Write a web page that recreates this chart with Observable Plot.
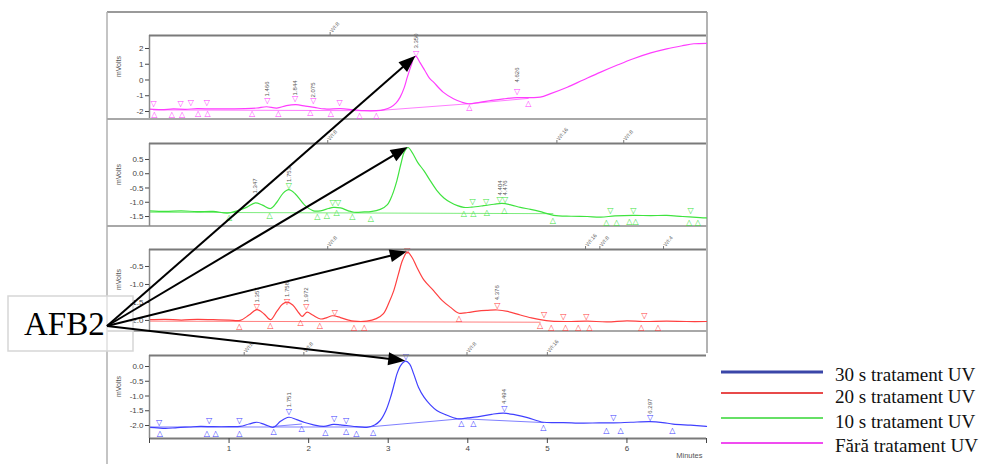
<!DOCTYPE html>
<html><head><meta charset="utf-8">
<script src="https://cdn.jsdelivr.net/npm/d3@7"></script>
<script src="https://cdn.jsdelivr.net/npm/@observablehq/plot@0.6"></script>
<style>
html,body{margin:0;padding:0;background:#fff;}
#wrap{position:relative;width:985px;height:464px;overflow:hidden;}
#wrap svg{position:absolute;left:0;}
</style></head><body><div id="wrap"></div>
<script>
// ---------- data ----------
const xTicks = [0,1,2,3,4,5,6,7];
const seriesNames = ["Fără tratament UV","10 s tratament UV","20 s tratament UV","30 s tratament UV"];
const afb2Label = "AFB2";
const afb2Times = [3.35, 3.25, 3.24, 3.22];   // retention time of AFB2 per panel (top to bottom)

const magentaTrace = [[0,-1.85],[0.15,-1.88],[0.3,-1.84],[0.45,-1.86],[0.6,-1.82],[0.8,-1.84],[1.0,-1.83],[1.2,-1.82],[1.35,-1.78],[1.47,-1.7],[1.6,-1.78],[1.72,-1.63],[1.84,-1.57],[1.96,-1.66],[2.07,-1.74],[2.2,-1.84],[2.4,-1.82],[2.55,-1.88],[2.7,-1.95],[2.85,-1.95],[2.95,-1.88],[3.03,-1.73],[3.1,-1.45],[3.15,-1.09],[3.2,-0.5],[3.24,0.18],[3.29,0.95],[3.32,1.4],[3.35,1.5],[3.4,1.1],[3.46,0.6],[3.52,0.1],[3.57,-0.14],[3.69,-0.77],[3.82,-1.19],[3.92,-1.4],[4.01,-1.51],[4.15,-1.42],[4.3,-1.3],[4.45,-1.2],[4.62,-1.12],[4.8,-1.12],[4.91,-1.09],[5.05,-0.85],[5.25,-0.46],[5.45,0.0],[5.67,0.5],[5.88,0.95],[6.08,1.35],[6.3,1.72],[6.5,1.98],[6.7,2.18],[6.84,2.3],[7.0,2.33]];
const greenTrace = [[0,-1.3],[0.2,-1.32],[0.4,-1.3],[0.6,-1.33],[0.8,-1.32],[0.98,-1.38],[1.1,-1.3],[1.22,-1.18],[1.33,-1.02],[1.42,-1.1],[1.52,-1.22],[1.6,-1.0],[1.68,-0.68],[1.75,-0.56],[1.83,-0.7],[1.95,-1.1],[2.06,-1.3],[2.15,-1.3],[2.25,-1.22],[2.31,-1.18],[2.4,-1.2],[2.5,-1.3],[2.57,-1.35],[2.7,-1.34],[2.78,-1.33],[2.9,-1.25],[2.99,-1.08],[3.05,-0.75],[3.11,-0.23],[3.16,0.35],[3.2,0.75],[3.25,0.92],[3.3,0.75],[3.37,0.4],[3.45,0.1],[3.53,-0.25],[3.61,-0.58],[3.7,-0.85],[3.78,-1.0],[3.87,-1.12],[3.95,-1.18],[4.05,-1.17],[4.2,-1.12],[4.33,-1.07],[4.43,-1.04],[4.55,-1.1],[4.66,-1.18],[4.79,-1.25],[4.9,-1.32],[5.08,-1.46],[5.3,-1.49],[5.5,-1.5],[5.67,-1.52],[5.85,-1.48],[6.08,-1.46],[6.3,-1.47],[6.5,-1.46],[6.7,-1.5],[6.92,-1.54],[7.0,-1.55]];
const redTrace = [[0,-1.98],[0.2,-1.97],[0.4,-1.99],[0.6,-1.97],[0.8,-1.98],[1.0,-1.99],[1.14,-2.0],[1.25,-1.85],[1.35,-1.7],[1.44,-1.82],[1.52,-1.98],[1.6,-1.75],[1.67,-1.55],[1.73,-1.49],[1.8,-1.57],[1.88,-1.8],[1.92,-1.89],[1.98,-1.77],[2.05,-1.85],[2.15,-1.96],[2.23,-1.92],[2.3,-1.87],[2.4,-1.92],[2.5,-1.99],[2.57,-2.02],[2.73,-2.02],[2.85,-1.95],[2.94,-1.81],[3.01,-1.5],[3.07,-1.17],[3.13,-0.7],[3.18,-0.33],[3.24,-0.1],[3.3,-0.25],[3.36,-0.52],[3.45,-0.88],[3.57,-1.17],[3.68,-1.45],[3.78,-1.63],[3.89,-1.8],[4.0,-1.78],[4.12,-1.74],[4.25,-1.72],[4.37,-1.71],[4.5,-1.75],[4.66,-1.85],[4.8,-1.93],[4.91,-1.98],[5.05,-2.02],[5.25,-2.03],[5.5,-2.02],[5.75,-2.04],[6.0,-2.01],[6.2,-2.03],[6.5,-2.02],[6.75,-2.03],[7.0,-2.03]];
const blueTrace = [[0,-2.06],[0.1,-2.08],[0.2,-2.1],[0.35,-2.07],[0.5,-2.05],[0.64,-2.03],[0.8,-2.04],[1.0,-2.04],[1.14,-2.03],[1.25,-1.95],[1.35,-1.89],[1.45,-1.97],[1.56,-2.06],[1.65,-1.85],[1.75,-1.72],[1.85,-1.8],[1.94,-1.89],[2.05,-1.97],[2.19,-2.03],[2.31,-1.96],[2.4,-1.98],[2.48,-2.0],[2.6,-2.04],[2.73,-2.06],[2.83,-1.98],[2.9,-1.83],[2.97,-1.5],[3.03,-1.04],[3.08,-0.55],[3.11,-0.25],[3.16,0.05],[3.22,0.18],[3.27,0.08],[3.32,-0.25],[3.38,-0.7],[3.45,-1.04],[3.53,-1.3],[3.61,-1.49],[3.72,-1.63],[3.87,-1.77],[4.0,-1.74],[4.12,-1.71],[4.3,-1.62],[4.45,-1.58],[4.6,-1.64],[4.75,-1.73],[4.95,-1.89],[5.2,-1.9],[5.45,-1.92],[5.65,-1.91],[5.83,-1.91],[6.05,-1.89],[6.29,-1.87],[6.45,-1.9],[6.58,-1.95],[6.8,-1.99],[7.0,-2.03]];

const magentaBase = [[[0.05,-1.9],[2.85,-1.95],[4.01,-1.51],[4.76,-1.17]]];
const greenBase = [[[0,-1.35],[5.07,-1.4]]];
const redBase = [[[0,-2.02],[4.91,-2.05]]];
const blueBase = [[[0,-2.05],[2.75,-2.05],[3.92,-1.77],[4.95,-1.9]],[[1.56,-2.03],[1.91,-1.95]]];

const magentaDown = [[0.05,-1.51],[0.39,-1.51],[0.52,-1.41],[0.72,-1.41],[1.48,-1.30],[1.83,-1.16],[2.06,-1.30],[2.39,-1.41],[3.35,1.68],[4.62,-0.71]];
const magentaUp = [[0.06,-2.21],[0.28,-2.21],[0.41,-2.21],[0.61,-2.15],[0.73,-2.15],[1.29,-2.15],[1.62,-2.15],[2.02,-2.04],[2.28,-2.15],[2.64,-2.25],[2.85,-2.25],[4.02,-1.77],[4.76,-1.47]];
const greenDown = [[1.75,-0.41],[2.30,-1.0],[2.37,-1.0],[4.06,-0.97],[4.23,-0.96],[4.40,-0.90],[4.47,-0.90],[5.79,-1.29],[6.08,-1.27],[6.80,-1.29]];
const greenUp = [[1.0,-1.52],[1.51,-1.46],[2.11,-1.49],[2.23,-1.46],[2.35,-1.35],[2.55,-1.51],[2.78,-1.55],[3.95,-1.38],[4.07,-1.38],[4.24,-1.37],[4.46,-1.29],[5.07,-1.64],[5.74,-1.70],[5.87,-1.70],[6.03,-1.66],[6.11,-1.66],[6.78,-1.70],[6.89,-1.70]];
const redDown = [[1.35,-1.61],[1.73,-1.46],[1.97,-1.61],[2.33,-1.77],[3.24,-0.06],[4.37,-1.58],[4.96,-1.83],[5.2,-1.89],[5.49,-1.89],[6.22,-1.86]];
const redUp = [[1.13,-2.17],[1.52,-2.14],[1.90,-2.05],[2.14,-2.14],[2.57,-2.2],[2.70,-2.2],[3.89,-1.95],[4.91,-2.14],[5.05,-2.19],[5.23,-2.2],[5.39,-2.2],[5.53,-2.2],[6.18,-2.2],[6.39,-2.2]];
const blueDown = [[0.12,-1.89],[0.75,-1.83],[1.13,-1.83],[1.75,-1.51],[2.32,-1.77],[2.47,-1.83],[3.22,0.34],[4.46,-1.43],[5.83,-1.72],[6.29,-1.74]];
const blueUp = [[0.13,-2.26],[0.72,-2.26],[0.83,-2.26],[1.13,-2.26],[1.56,-2.19],[1.91,-2.11],[2.21,-2.23],[2.47,-2.21],[2.60,-2.26],[2.81,-2.23],[3.92,-1.94],[4.07,-1.94],[4.95,-2.08],[5.74,-2.15],[5.92,-2.15],[6.57,-2.15]];

const magentaPeaks = [[1.48,-1.05,"1.466"],[1.83,-0.98,"1.844"],[2.06,-1.11,"2.075"],[3.35,2.0,"3.350"],[4.62,-0.16,"4.626"]];
const greenPeaks = [[1.33,-0.69,"1.347"],[1.75,-0.29,"1.753"],[4.40,-0.76,"4.404"],[4.47,-0.76,"4.476"]];
const redPeaks = [[1.35,-1.5,"1.357"],[1.73,-1.35,"1.758"],[1.97,-1.5,"1.972"],[4.37,-1.44,"4.376"]];
const bluePeaks = [[1.75,-1.38,"1.751"],[4.46,-1.27,"4.494"],[6.29,-1.6,"6.297"]];

const magentaEvents = [[2.27,"WI:8"]];
const greenEvents = [[2.24,"WI:8"],[5.12,"WI:16"],[5.96,"WI:8"]];
const redEvents = [[2.24,"WI:8"],[5.48,"WI:16"],[5.66,"WI:8"],[6.46,"WI:4"]];
const blueEvents = [[1.19,"WI:8"],[1.94,"WI:8"],[3.99,"WI:8"],[5.0,"WI:16"]];

const magentaTicks = [-2,-1,0,1,2];
const greenTicks = [-1.5,-1,-0.5,0,0.5];
const redTicks = [-2,-1.5,-1,-0.5];
const blueTicks = [-2,-1.5,-1,-0.5,0];

const traceColors = ["#ff3dff","#3fe33f","#ff4040","#4040ff"];
const legendColors = ["#3a46a8","#e84a4a","#66e066","#f04cf0"]; // 30 s, 20 s, 10 s, Fără

// ---------- layout ----------
const W = 985, H = 464;
const boxLeft = 107, boxRight = 707, boxTop = 12;
const panels = [
  {trace: magentaTrace, base: magentaBase, down: magentaDown, up: magentaUp, peaks: magentaPeaks, events: magentaEvents, ticks: magentaTicks, fmt: d => String(d), domain: [-2.445, 2.825], top: 12, height: 106, mt: 23, mb: 0, color: traceColors[0]},
  {trace: greenTrace, base: greenBase, down: greenDown, up: greenUp, peaks: greenPeaks, events: greenEvents, ticks: greenTicks, fmt: d => d.toFixed(1), domain: [-1.85, 1.06], top: 119, height: 107, mt: 24, mb: 0, color: traceColors[1]},
  {trace: redTrace, base: redBase, down: redDown, up: redUp, peaks: redPeaks, events: redEvents, ticks: redTicks, fmt: d => d.toFixed(1), domain: [-2.28, -0.028], top: 226, height: 104, mt: 23, mb: 0, color: traceColors[2]},
  {trace: blueTrace, base: blueBase, down: blueDown, up: blueUp, peaks: bluePeaks, events: blueEvents, ticks: blueTicks, fmt: d => d.toFixed(1), domain: [-2.44, 0.373], top: 331, height: 133, mt: 24, mb: 26, color: traceColors[3], xAxis: true}
];

const wrap = d3.select("#wrap");

// base decorations (outer frame and panel separators)
const base = wrap.append("svg").attr("width", W).attr("height", H).style("top", "0px");
base.append("line").attr("x1", boxLeft).attr("x2", boxRight).attr("y1", boxTop).attr("y2", boxTop).attr("stroke", "#9a9a9a").attr("stroke-width", 2);
base.append("line").attr("x1", boxLeft).attr("x2", boxLeft).attr("y1", boxTop).attr("y2", H).attr("stroke", "#b0b0b0").attr("stroke-width", 1.5);
base.append("line").attr("x1", boxRight).attr("x2", boxRight).attr("y1", boxTop).attr("y2", 353).attr("stroke", "#9a9a9a").attr("stroke-width", 1.5);
panels.slice(1).forEach(p => {
  base.append("line").attr("x1", boxLeft).attr("x2", boxRight).attr("y1", p.top).attr("y2", p.top).attr("stroke", "#a8a8a8").attr("stroke-width", 2);
});

const charts = panels.map(p => {
  const yTop = p.domain[1], yBot = p.domain[0];
  const baseRows = p.base.flatMap((seg, i) => seg.map(d => ({t: d[0], v: d[1], seg: i})));
  const marks = [
    Plot.line(baseRows, {x: "t", y: "v", z: "seg", stroke: p.color, strokeWidth: 0.9, strokeOpacity: 0.75}),
    Plot.line(p.trace, {x: d => d[0], y: d => d[1], stroke: p.color, strokeWidth: 1.2, curve: "catmull-rom"}),
    Plot.text(p.down, {x: d => d[0], y: d => d[1], text: () => "▽", fill: p.color, fontSize: 8, fontFamily: "DejaVu Sans"}),
    Plot.text(p.up, {x: d => d[0], y: d => d[1], text: () => "△", fill: p.color, fontSize: 8, fontFamily: "DejaVu Sans"}),
    Plot.text(p.peaks, {x: d => d[0], y: d => d[1], text: d => d[2], rotate: -90, textAnchor: "start", fontSize: 6, fill: "#555"}),
    Plot.ruleX(p.events, {x: d => d[0], y1: () => yTop, y2: () => yTop, insetTop: -3, stroke: "#777"}),
    Plot.text(p.events, {x: d => d[0], y: () => yTop, text: d => d[1], rotate: -50, textAnchor: "start", dy: -4, dx: 1, fontSize: 5.5, fill: "#666"}),
    Plot.ruleX([0], {stroke: "#8a8a8a", strokeWidth: 1.5}),
    Plot.ruleY([yTop], {stroke: "#7a7a7a", strokeWidth: 2}),
    Plot.axisY({ticks: p.ticks, tickFormat: p.fmt, tickSize: 4, tickPadding: 2, label: null}),
    Plot.text(["mVolts"], {text: d => d, frameAnchor: "left", dx: -31, rotate: -90, fontSize: 7, fill: "#555"})
  ];
  if (p.xAxis) {
    marks.push(
      Plot.ruleY([yBot], {stroke: "#7a7a7a", strokeWidth: 2}),
      Plot.axisX({ticks: xTicks, tickFormat: d => (d === 0 || d === 7) ? "" : String(d), tickSize: 5, tickPadding: 2, label: null}),
      Plot.text(["Minutes"], {text: d => d, frameAnchor: "bottom-right", dy: 19, dx: -4, textAnchor: "end", fontSize: 7.5, fill: "#555"})
    );
  }
  const chart = Plot.plot({
    width: W, height: p.height,
    marginLeft: 149, marginRight: W - 706, marginTop: p.mt, marginBottom: p.mb,
    x: {domain: [0, 7], axis: null},
    y: {domain: p.domain, axis: null},
    style: {background: "transparent", fontFamily: "'Liberation Sans', Arial, sans-serif", fontSize: "8px", color: "#444", overflow: "visible"},
    marks
  });
  chart.style.top = p.top + "px";
  wrap.node().appendChild(chart);
  return chart;
});

// ---------- overlay: AFB2 box, arrows, legend ----------
const ov = wrap.append("svg").attr("width", W).attr("height", H).style("top", "0px");
ov.append("rect").attr("x", 8).attr("y", 296).attr("width", 125).attr("height", 55)
  .attr("fill", "#fff").attr("fill-opacity", 0.6).attr("stroke", "#d6d6d6").attr("stroke-width", 1.5);
ov.append("text").attr("x", 24).attr("y", 335).attr("font-family", "'Liberation Serif', 'Times New Roman', serif")
  .attr("font-size", 33).attr("fill", "#000").text(afb2Label);

const origin = [107, 326];
panels.forEach((p, i) => {
  const chart = charts[i];
  const t = afb2Times[i];
  const pk = p.trace.reduce((a, b) => Math.abs(b[0] - t) < Math.abs(a[0] - t) ? b : a);
  const tx = chart.scale("x").apply(pk[0]);
  const ty = chart.scale("y").apply(pk[1]) + p.top;
  const dx = tx - origin[0], dy = ty - origin[1];
  const L = Math.hypot(dx, dy), ux = dx / L, uy = dy / L;
  const hl = 17, hw = 6.5;
  const bx = tx - ux * hl, by = ty - uy * hl;
  ov.append("line").attr("x1", origin[0]).attr("y1", origin[1]).attr("x2", bx + ux * 2).attr("y2", by + uy * 2)
    .attr("stroke", "#000").attr("stroke-width", 2);
  ov.append("polygon").attr("points", [[tx, ty], [bx - uy * hw, by + ux * hw], [bx + uy * hw, by - ux * hw]].map(q => q.join(",")).join(" "))
    .attr("fill", "#000");
});

// legend
const lg = ov.append("g");
lg.append("rect").attr("x", 709).attr("y", 354).attr("width", 276).attr("height", 110).attr("fill", "#fff");
const legendRows = [
  [seriesNames[3], legendColors[0], 372, 381, 3],
  [seriesNames[2], legendColors[1], 393, 403, 2],
  [seriesNames[1], legendColors[2], 418, 427.5, 2],
  [seriesNames[0], legendColors[3], 443, 452, 2]
];
legendRows.forEach(([name, col, y, by, sw]) => {
  lg.append("line").attr("x1", 721).attr("x2", 823).attr("y1", y).attr("y2", y).attr("stroke", col).attr("stroke-width", sw);
  lg.append("text").attr("transform", `translate(835,${by}) scale(1.06,1.1)`)
    .attr("font-family", "'Liberation Serif', 'Times New Roman', serif").attr("font-size", 18).attr("fill", "#111").text(name);
});
</script>
</body></html>
